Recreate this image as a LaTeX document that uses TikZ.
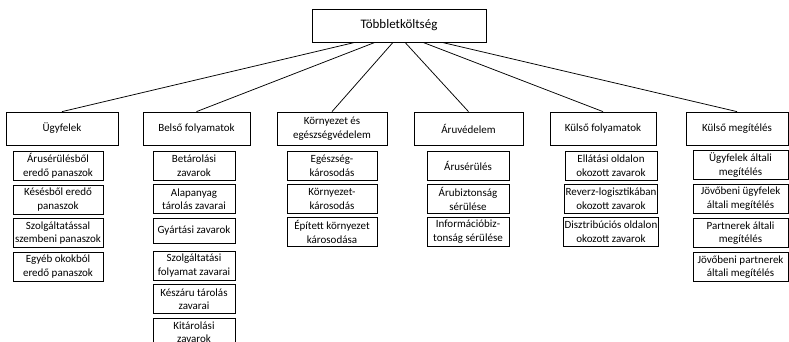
\documentclass[tikz,border=0pt]{standalone}
\usepackage{fontspec}
\setmainfont{Carlito}
\usetikzlibrary{%
	positioning,%
	calc%
}
\tikzset{
	box/.style={draw, line width=0.75pt, align=center, inner sep=1pt, font=\fontsize{11}{13.5}\selectfont},
	head/.style={box, minimum height=33},
	item/.style={box, anchor=north, minimum height=29},
	link/.style={line width=0.75pt}
}

\begin{document}
\begin{tikzpicture}[x=1pt,y=-1pt]
	\clip (0,0) rectangle (789,342);
	\node[box, minimum width=174, minimum height=33, font=\fontsize{13}{15}\selectfont] (top) at (399,25.5) {Többletköltség};
	% second level
	\foreach \name/\cx/\w/\txt in {ugy/62/112/Ügyfelek, bel/196.5/107/Belső folyamatok,
		kor/332/110/{Környezet és\\egészségvédelem}, aru/468.5/109/Áruvédelem,
		kfo/603/106/Külső folyamatok, kme/737/102/Külső megítélés}
	{\node[head, minimum width=\w] (\name) at (\cx,128.5) {\txt};}
	\foreach \dx/\name in {-44/ugy,-24/bel,-6/kor,6/aru,24/kfo,43/kme}
		\draw[link] ([xshift=\dx]top.south) -- (\name.north);
	% third level
	\foreach \txt [count=\i] in {{Árusérülésből\\eredő panaszok}, {Késésből eredő\\panaszok},
		{Szolgáltatással\\szembeni panaszok}, {Egyéb okokból\\eredő panaszok}}
		\node[item, minimum width=90] (ugy-\i) at (58,{151+33.5*(\i-1)}) {\txt};
	\foreach \txt/\h [count=\i] in {{Betárolási\\zavarok}/29, {Alapanyag\\tárolás zavarai}/29,
		{Gyártási zavarok}/25, {Szolgáltatási\\folyamat zavarai}/29,
		{Készáru tárolás\\zavarai}/29, {Kitárolási\\zavarok}/29}
		\node[item, minimum width=82, minimum height=\h] (bel-\i) at (194,{151+33.3*(\i-1)}) {\txt};
	\foreach \txt [count=\i] in {{Egészség-\\károsodás}, {Környezet-\\károsodás},
		{Épített környezet\\károsodása}}
		\node[item, minimum width=90] (kor-\i) at (332,{151+33*(\i-1)}) {\txt};
	\foreach \txt [count=\i] in {{Árusérülés}, {Árubiztonság\\sérülése},
		{Információbiz-\\tonság sérülése}}
		\node[item, minimum width=82] (aru-\i) at (468,{151+33*(\i-1)}) {\txt};
	\foreach \txt [count=\i] in {{Ellátási oldalon\\okozott zavarok}, {Reverz-logisztikában\\okozott zavarok},
		{Disztribúciós oldalon\\okozott zavarok}}
		\node[item, minimum width=92] (kfo-\i) at (611,{151+33*(\i-1)}) {\txt};
	\foreach \txt [count=\i] in {{Ügyfelek általi\\megítélés}, {Jövőbeni ügyfelek\\általi megítélés},
		{Partnerek általi\\megítélés}, {Jövőbeni partnerek\\általi megítélés}}
		\node[item, minimum width=95] (kme-\i) at (740.5,{150+34*(\i-1)}) {\txt};
\end{tikzpicture}
\end{document}
